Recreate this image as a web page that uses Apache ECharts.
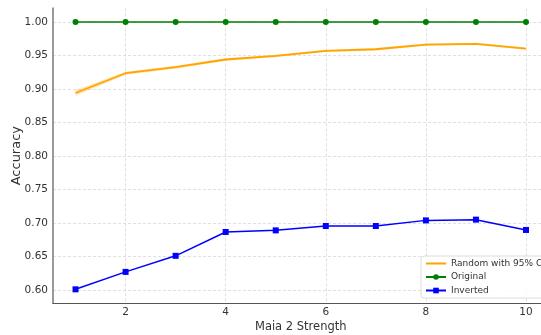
<!DOCTYPE html>
<html>
<head>
<meta charset="utf-8">
<script src="https://cdn.jsdelivr.net/npm/echarts@6/dist/echarts.min.js"></script>
<style>html,body{margin:0;padding:0;background:#fff;}#c{width:541px;height:335px;}</style>
</head>
<body>
<div id="c"></div>
<script>
const strengths = [1, 2, 3, 4, 5, 6, 7, 8, 9, 10];
const randomAcc = [0.894, 0.9235, 0.9325, 0.944, 0.9493, 0.9568, 0.9593, 0.9663, 0.9672, 0.9603];
const ciLower = [0.8900, 0.9212, 0.9303, 0.9420, 0.9474, 0.9550, 0.9576, 0.9646, 0.9655, 0.9586];
const ciUpper = [0.8980, 0.9258, 0.9347, 0.9460, 0.9512, 0.9586, 0.9610, 0.9680, 0.9689, 0.9620];
const originalAcc = [1.0, 1.0, 1.0, 1.0, 1.0, 1.0, 1.0, 1.0, 1.0, 1.0];
const invertedAcc = [0.601, 0.627, 0.651, 0.6866, 0.689, 0.6955, 0.6955, 0.7039, 0.705, 0.6896];
const xTicks = [2, 4, 6, 8, 10];
const yTicks = [0.60, 0.65, 0.70, 0.75, 0.80, 0.85, 0.90, 0.95, 1.00];

const pairs = (ys) => strengths.map((x, i) => [x, ys[i]]);
const font = 'DejaVu Sans';

const chart = echarts.init(document.getElementById('c'), null, {renderer: 'canvas'});
chart.setOption({
  animation: false,
  backgroundColor: '#fff',
  textStyle: {fontFamily: font},
  grid: {left: 53, top: 8.3, width: 495.5, height: 294.7, containLabel: false, outerBoundsMode: 'none'},
  xAxis: {
    type: 'value', min: 0.55, max: 10.45,
    name: 'Maia 2 Strength', nameLocation: 'middle', nameGap: 18, nameMoveOverlap: false,
    nameTextStyle: {fontSize: 11.5, color: '#333', fontFamily: font},
    axisLine: {show: true, lineStyle: {color: '#555', width: 1.2}},
    axisTick: {show: false, customValues: xTicks},
    axisLabel: {customValues: xTicks, fontSize: 10.5, color: '#333', margin: 4, fontFamily: font},
    splitLine: {show: true, lineStyle: {color: '#d8d8d8', type: [3, 2], width: 0.8}}
  },
  yAxis: {
    type: 'value', min: 0.5806, max: 1.0204,
    name: 'Accuracy', nameLocation: 'middle', nameGap: 30, nameRotate: 90, nameMoveOverlap: false,
    nameTextStyle: {fontSize: 13, color: '#333', fontFamily: font},
    axisLine: {show: true, lineStyle: {color: '#999', width: 2}},
    axisTick: {show: false, customValues: yTicks},
    axisLabel: {customValues: yTicks, fontSize: 10.5, color: '#333', margin: 5, fontFamily: font,
      formatter: (v) => v.toFixed(2)},
    splitLine: {show: true, lineStyle: {color: '#d8d8d8', type: [3, 2], width: 0.8}}
  },
  legend: {
    orient: 'vertical', left: 421, top: 256,
    itemWidth: 20, itemHeight: 7, itemGap: 4.5,
    padding: [3, 4, 3, 4],
    backgroundColor: 'rgba(255,255,255,0.85)', borderColor: '#ddd', borderWidth: 1, borderRadius: 3,
    textStyle: {fontSize: 9, color: '#333', fontFamily: font},
    data: [{name: 'Random with 95% CI', itemStyle: {opacity: 0}}, 'Original', 'Inverted']
  },
  series: [
    {
      name: 'band', type: 'custom', silent: true, z: 1,
      data: [[1, 0.9]],
      renderItem: function (params, api) {
        const pts = [];
        for (let i = 0; i < strengths.length; i++) pts.push(api.coord([strengths[i], ciUpper[i]]));
        for (let i = strengths.length - 1; i >= 0; i--) pts.push(api.coord([strengths[i], ciLower[i]]));
        return {type: 'polygon', shape: {points: pts}, style: {fill: 'rgba(255,165,0,0.3)'}};
      }
    },
    {
      name: 'Random with 95% CI', type: 'line', data: pairs(randomAcc), z: 3,
      showSymbol: false, symbol: 'none', color: '#FFA500',
      lineStyle: {color: '#FFA500', width: 1.8}
    },
    {
      name: 'Original', type: 'line', data: pairs(originalAcc), z: 4,
      symbol: 'circle', symbolSize: 6, color: '#008000',
      lineStyle: {color: '#008000', width: 1.5}, itemStyle: {color: '#008000'}
    },
    {
      name: 'Inverted', type: 'line', data: pairs(invertedAcc), z: 4,
      symbol: 'rect', symbolSize: 6, color: '#0000FF',
      lineStyle: {color: '#0000FF', width: 1.5}, itemStyle: {color: '#0000FF'}
    }
  ]
});
</script>
</body>
</html>
